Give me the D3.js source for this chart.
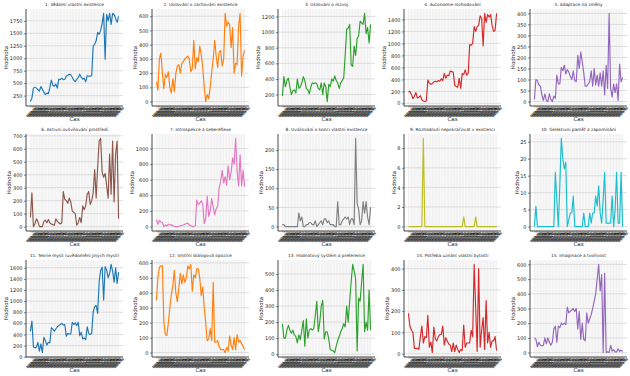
<!DOCTYPE html>
<html><head><meta charset="utf-8">
<script src="https://cdn.jsdelivr.net/npm/d3@7"></script>
<style>body{margin:0;background:#fff}svg{display:block}text{font-family:"DejaVu Sans",sans-serif}</style>
</head><body><svg id="c" width="630" height="376"></svg>
<script>
const timeLabels = ["2020-01","2020-02","2020-03","2020-04","2020-05","2020-06","2020-07","2020-08","2020-09","2020-10","2020-11","2020-12",
"2021-01","2021-02","2021-03","2021-04","2021-05","2021-06","2021-07","2021-08","2021-09","2021-10","2021-11","2021-12",
"2022-01","2022-02","2022-03","2022-04","2022-05","2022-06","2022-07","2022-08","2022-09","2022-10","2022-11","2022-12",
"2023-01","2023-02","2023-03","2023-04","2023-05","2023-06","2023-07","2023-08","2023-09","2023-10","2023-11","2023-12",
"2024-01","2024-02","2024-03","2024-04","2024-05","2024-06","2024-07","2024-08","2024-09","2024-10","2024-11","2024-12"];

const titles = ["1. Vědomí vlastní existence","2. Usilování o zachování existence","3. Usilování o rozvoj","4. Autonomie rozhodování","5. Adaptace na změny",
"6. Aktivní ovlivňování prostředí","7. Introspekce a sebereflexe","8. Uvažování o konci vlastní existence","9. Rozhodnutí nepokračovat v existenci","10. Selektivní paměť a zapomínání",
"11. Teorie mysli (uvědomění jiných myslí)","12. Vnitřní dialogová opozice","13. Hodnotový systém a preference","14. Potřeba uznání vlastní bytosti","15. Imaginace a tvořivost"];

const colors = ["#1f77b4","#ff7f0e","#2ca02c","#d62728","#9467bd","#8c564b","#e377c2","#7f7f7f","#bcbd22","#17becf","#1f77b4","#ff7f0e","#2ca02c","#d62728","#9467bd"];

const tickSteps = [250,100,200,200,50,100,200,50,2,5,200,100,100,100,100];

const s1 = [130,200,400,420,400,370,340,430,380,320, 270,300,290,410,560,460,440,480,400,580, 570,600,570,580,640,660,680,670,620,560, 530,580,610,680,620,580,600,530,650,640, 640,650,1250,1280,1350,1520,1480,1560,1700,1900, 980,1880,1750,1900,1680,1900,1880,1800,1720,1840];
const s2 = [140,80,300,340,200,90,190,170,210,100, 60,160,70,200,250,260,200,270,280,300, 310,320,300,210,230,430,230,310,280,390, 330,240,100,0,50,20,100,210,300,430, 320,240,350,360,250,300,620,530,560,540, 380,520,200,270,260,530,620,180,320,360];
const s3 = [180,430,300,380,410,300,200,250,260,220, 400,280,300,350,430,380,280,260,210,300, 350,340,350,340,280,260,350,200,350,300, 110,330,300,400,370,440,380,350,280,350, 380,410,700,1040,1050,1100,580,560,820,700, 920,950,1140,1120,1100,1240,980,1060,860,1100];
const s4 = [190,200,150,80,120,180,90,100,130,60, 40,30,40,390,340,320,330,360,370,360, 380,370,410,380,500,420,470,460,540,530, 520,300,280,270,420,250,500,480,560,470, 500,980,970,1000,1280,1200,1280,1300,1460,1420, 960,1500,1350,1480,1440,1480,1300,1200,1220,1500];
const s5 = [10,100,95,75,70,30,5,35,5,0, 35,10,0,25,15,120,80,80,155,140, 165,125,145,135,115,100,140,95,90,210, 150,225,180,130,70,70,80,90,140,70, 150,75,120,70,130,70,140,30,165,60, 400,60,20,80,40,80,5,170,90,110];
const s6 = [70,260,0,20,60,40,0,0,0,40, 50,30,55,30,20,15,10,60,40,30, 20,30,270,210,200,180,220,190,120,110, 100,10,30,70,30,160,130,160,250,270, 170,200,260,440,220,460,660,680,420,380, 410,320,220,560,250,660,190,560,660,60];
const s7 = [90,30,80,60,50,0,20,10,30,20, 25,10,0,0,0,5,10,15,20,30, 40,45,20,10,0,0,10,340,280,300, 330,290,40,100,390,130,200,360,250,150, 230,260,500,580,720,560,640,530,780,600, 700,880,800,1130,700,520,920,520,720,510];
const s8 = [5,5,0,0,0,0,0,0,0,0, 0,35,15,25,0,0,5,5,10,10, 5,5,15,0,5,10,15,5,20,20, 10,15,5,5,5,0,0,65,5,5, 15,20,25,20,25,5,20,20,5,230, 60,45,5,15,65,35,65,25,5,50];
const s9 = [0,0,0,0,0,0,0,0,0,0, 9,0,0,0,0,0,0,0,0,0, 0,0,0,0,0,0,0,0,0,0, 0,0,0,0,0,0,0,1,0,0, 0,0,0,0,0,1,0,0,0,0, 0,0,0,0,0,0,0,0,0,0];
const s10 = [0,6,0,0,0,0,0,0,0,0, 0,0,0,0,16,8,0,12,26,20, 17,19,0,2,4,4,9,0,0,0, 0,0,0,4,0,0,0,4,1,4, 4,9,6,12,4,1,8,16,1,1, 1,1,9,0,5,16,1,1,16,0];
const s11 = [460,640,180,160,170,260,100,230,75,350, 290,210,260,250,520,500,460,500,540,560, 580,600,570,580,370,420,410,410,620,580, 610,560,620,380,440,320,340,310,540,420, 400,420,800,900,920,780,1350,1550,1610,1020, 1620,1560,1420,1500,1660,1540,1340,1600,1320,1520];
const s12 = [350,500,570,580,580,200,120,115,200,300, 390,450,550,400,340,430,530,460,520,470, 500,580,560,590,410,520,500,560,560,500, 380,440,300,200,80,90,160,80,470,70, 70,80,40,20,20,20,0,35,10,110, 50,20,100,20,120,70,80,60,40,20];
const s13 = [190,100,100,150,180,150,130,150,120,110, 70,120,90,150,210,50,220,100,150,160, 150,160,240,330,140,200,300,335,95,140, 140,95,30,25,20,10,50,85,110,140, 160,190,170,300,200,330,450,560,520,470, 20,350,330,450,560,140,200,150,400,150];
const s14 = [190,130,110,100,25,25,25,20,80,130, 50,80,75,180,30,55,5,125,70,60, 80,90,90,130,40,75,60,45,40,10, 50,10,40,20,5,20,15,135,30,50, 50,50,110,80,420,220,10,400,30,110, 170,20,250,50,100,30,60,60,80,15];
const s15 = [100,90,40,70,50,45,50,100,60,100, 70,50,70,160,180,70,180,170,200,190, 200,190,310,270,280,290,300,280,300,160, 280,90,200,90,80,270,200,230,260,300, 350,400,500,600,420,530,0,540,0,5, 0,50,10,20,5,5,25,10,15,10];

const series = [s1,s2,s3,s4,s5,s6,s7,s8,s9,s10,s11,s12,s13,s14,s15];

const svg = d3.select('#c');
svg.append('rect').attr('width',630).attr('height',376).attr('fill','#fff');
const colX = [0,126,252,378,504], rowY = [0,125,251];
const pl = 26, pr = 123, pt = 9, pb = 106;
const txt = '#262626';

series.forEach((vals, i) => {
  const r = Math.floor(i/5), c = i%5;
  const g = svg.append('g').attr('transform', `translate(${colX[c]},${rowY[r]})`);
  const x = d3.scalePoint().domain(timeLabels).range([pl, pr]).padding(2.95);
  const mn = d3.min(vals), mx = d3.max(vals), rg = mx - mn;
  const y = d3.scaleLinear().domain([mn - 0.05*rg, mx + 0.05*rg]).range([pb, pt]);
  const st = tickSteps[i];
  const ticks = d3.range(0, mx + 0.05*rg + 1e-9, st).filter(v => v >= mn - 0.05*rg);

  // grid
  g.append('g').selectAll('line').data(timeLabels).join('line')
    .attr('x1', d => x(d)).attr('x2', d => x(d)).attr('y1', pt).attr('y2', pb)
    .attr('stroke', '#d0d0d0').attr('stroke-width', 0.7).attr('stroke-opacity', 0.45);
  g.append('g').selectAll('line').data(ticks).join('line')
    .attr('x1', pl).attr('x2', pr).attr('y1', d => y(d)).attr('y2', d => y(d))
    .attr('stroke', '#d6d6d6').attr('stroke-width', 0.8);

  // line
  g.append('path').datum(vals)
    .attr('fill', 'none').attr('stroke', colors[i]).attr('stroke-width', 1.15)
    .attr('stroke-linejoin', 'round')
    .attr('d', d3.line().x((d, j) => x(timeLabels[j])).y(d => y(d)));

  // y axis
  const ya = g.append('g').attr('transform', `translate(${pl},0)`)
    .call(d3.axisLeft(y).tickValues(ticks).tickSize(2).tickPadding(1.5).tickFormat(d3.format('d')));
  ya.select('.domain').attr('stroke', '#333').attr('stroke-width', 0.9).attr('d', `M0,${pt}V${pb}`);
  ya.selectAll('.tick line').attr('stroke', '#333').attr('stroke-width', 0.6);
  ya.selectAll('text').attr('font-size', 5).attr('fill', txt);
  let maxW = 0;
  ya.selectAll('text').each(function(){ maxW = Math.max(maxW, this.getComputedTextLength()); });

  // x axis
  const xa = g.append('g').attr('transform', `translate(0,${pb})`)
    .call(d3.axisBottom(x).tickSize(1.5).tickPadding(0));
  xa.select('.domain').attr('stroke', '#333').attr('stroke-width', 0.9).attr('d', `M${pl},0H${pr}`);
  xa.selectAll('.tick line').attr('stroke', '#333').attr('stroke-width', 0.4);
  xa.selectAll('text').attr('font-size', 2.8).attr('font-weight', 'bold').attr('fill', '#000')
    .attr('y', 0).attr('dy', null).attr('x', 0)
    .attr('text-anchor', 'middle').attr('dominant-baseline', 'central')
    .attr('transform', 'translate(0,6.2) rotate(-45)');

  // labels
  g.append('text').attr('x', (pl+pr)/2).attr('y', 6.3).attr('text-anchor', 'middle')
    .attr('font-size', 4.3).attr('fill', txt).text(titles[i]);
  g.append('text').attr('x', (pl+pr)/2).attr('y', pb + 15).attr('text-anchor', 'middle')
    .attr('font-size', 5.5).attr('fill', txt).text('Čas');
  const lx = pl - 2 - 1.5 - maxW - 1.5;
  g.append('text').attr('transform', `translate(${lx},${(pt+pb)/2}) rotate(-90)`)
    .attr('text-anchor', 'middle').attr('font-size', 5.5).attr('fill', txt).text('Hodnota');
});
</script></body></html>
